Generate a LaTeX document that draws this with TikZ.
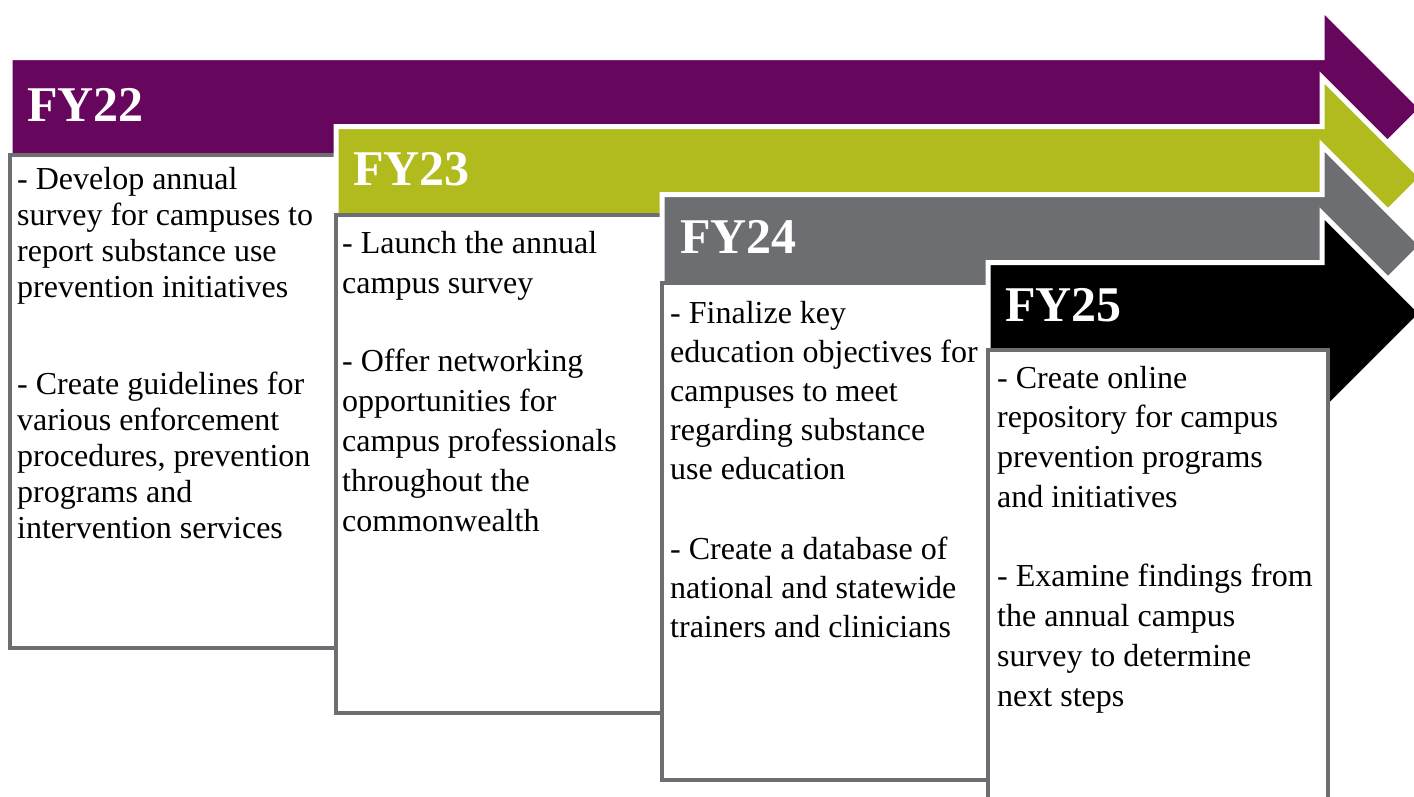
\documentclass[tikz,border=0pt]{standalone}
\usepackage{fontspec}
\setmainfont{Liberation Serif}
\definecolor{fypurple}{HTML}{66065C}
\definecolor{fyolive}{HTML}{B2BB1E}
\definecolor{fygray}{HTML}{6D6E71}

\begin{document}
\begin{tikzpicture}[x=1pt, y=-1pt, line join=miter,
	band/.style={draw=white, line width=5pt},
	card/.style={draw=fygray, fill=white, line width=4pt},
	yearlabel/.style={anchor=base west, inner sep=0pt, text=white,
		font=\fontsize{50}{50}\selectfont\bfseries},
	cardtext/.style={anchor=base west, inner sep=0pt, align=left}]
	\def\hb{1322}
	\def\tip{1422}
	\path[use as bounding box] (0,0) rectangle (1414,796);
	\clip (0,0) rectangle (1414,796);
	% arrows and cards, back to front
	\foreach \c/\cy/\l/\r/\t/\b in
	{fypurple/108.5/10/336/155/648, fyolive/177.5/336/662/215/713,
		fygray/245.5/662/988/282.5/780, black/313.5/988/1328/350/830}
	{
		\filldraw[band, fill=\c] (\l,\cy-51) -- (\hb,\cy-51) -- (\hb,\cy-100)
		-- (\tip,\cy) -- (\hb,\cy+100) -- (\hb,\cy+51) -- (\l,\cy+51) -- cycle;
		\filldraw[card] (\l,\t) rectangle (\r,\b);
	}
	% year labels
	\foreach \n/\x/\y in {22/27/121, 23/353/185, 24/680/253, 25/1005/321}
	\node[yearlabel] (fy\n) at (\x,\y) {FY\n};
	% card texts (placed at the baseline of their last line)
	\node[cardtext, font=\fontsize{32}{36}\selectfont] (txt22) at (17,538)
	{- Develop annual\\ survey for campuses to\\ report substance use\\
		prevention initiatives\\[61pt] - Create guidelines for\\
		various enforcement\\ procedures, prevention\\ programs and\\
		intervention services};
	\node[cardtext, font=\fontsize{32}{40}\selectfont] (txt23) at (342,531)
	{- Launch the annual\\ campus survey\\[38pt] - Offer networking\\
		opportunities for\\ campus professionals\\ throughout the\\
		commonwealth};
	\node[cardtext, font=\fontsize{32}{39}\selectfont] (txt24) at (670,637)
	{- Finalize key\\ education objectives for\\ campuses to meet\\
		regarding substance\\ use education\\[41pt] - Create a database of\\
		national and statewide\\ trainers and clinicians};
	\node[cardtext, font=\fontsize{32}{39.7}\selectfont] (txt25) at (997,706)
	{- Create online\\ repository for campus\\ prevention programs\\
		and initiatives\\[40pt] - Examine findings from\\ the annual campus\\
		survey to determine\\ next steps};
\end{tikzpicture}
\end{document}
